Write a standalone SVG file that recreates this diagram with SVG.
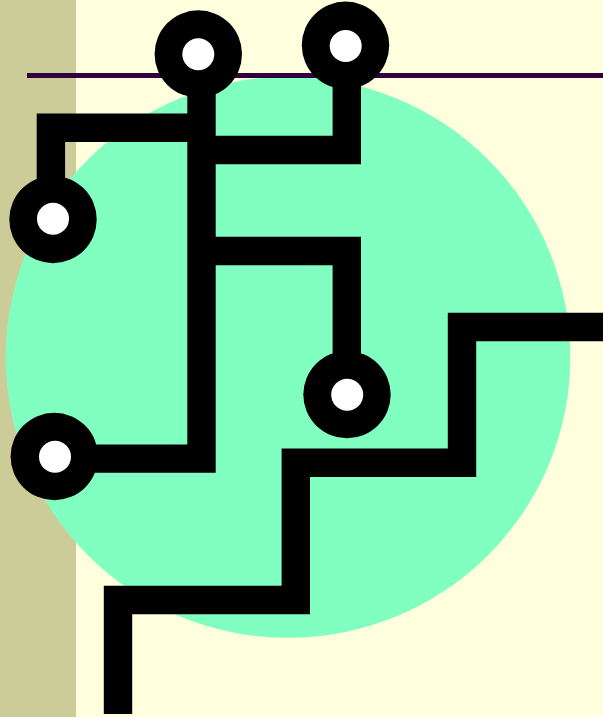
<svg xmlns="http://www.w3.org/2000/svg" width="603" height="717" viewBox="0 0 603 717">
<style>
.w{fill:none;stroke:#000;stroke-width:28.4;stroke-linejoin:miter}
.r{fill:#000}
.h{fill:#fff}
</style>
<rect width="603" height="717" fill="#ffffdd"/>
<rect width="76" height="717" fill="#cccc99"/>
<ellipse cx="288" cy="357.3" rx="282.3" ry="280.5" fill="#80ffc0"/>
<rect x="27" y="73" width="576" height="5" fill="#33003f"/>
<g id="connectors">
<path class="w" d="M201.5 60V458.6H60"/>
<path class="w" d="M201.5 127.7H50.9V210"/>
<path class="w" d="M201.5 150H346.8V50"/>
<path class="w" d="M201.5 251H346.8V390"/>
<path class="w" d="M603 327H462V462.7H295.8V600H118V714"/>
</g>
<g id="n1"><circle class="r" cx="198.3" cy="54" r="43.7"/><circle class="h" cx="198.3" cy="54.3" r="16"/></g>
<g id="n2"><circle class="r" cx="345.5" cy="45.3" r="43.7"/><circle class="h" cx="345.7" cy="46" r="16"/></g>
<g id="n3"><circle class="r" cx="53" cy="219.5" r="43.7"/><circle class="h" cx="53" cy="218.7" r="16"/></g>
<g id="n4"><circle class="r" cx="347" cy="394.6" r="43.7"/><circle class="h" cx="347.2" cy="394.7" r="16"/></g>
<g id="n5"><circle class="r" cx="54.3" cy="456.5" r="43.7"/><circle class="h" cx="55" cy="456.7" r="16"/></g>
</svg>
